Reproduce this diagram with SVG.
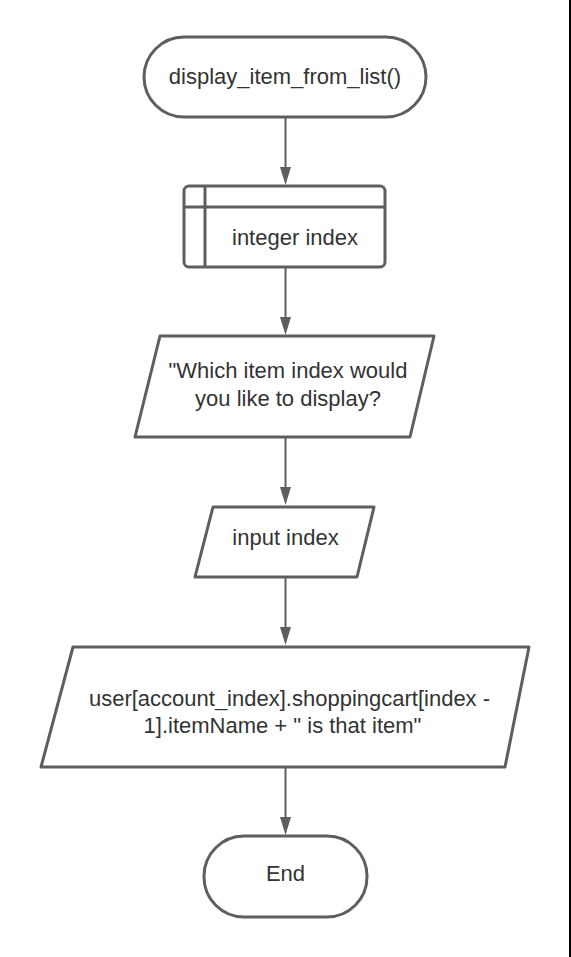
<svg xmlns="http://www.w3.org/2000/svg" width="571" height="957" viewBox="0 0 571 957">
<style>
.shape{fill:#ffffff;stroke:#5e5e5e;stroke-width:3;stroke-linejoin:round}
.inner{fill:none;stroke:#5e5e5e;stroke-width:3}
.conn{fill:none;stroke:#5e5e5e;stroke-width:2}
.lbl{font-family:"Liberation Sans",Arial,sans-serif;font-size:22px;fill:#333333;text-anchor:middle}
</style>
<defs>
<marker id="arrow" markerWidth="12" markerHeight="18" refX="11" refY="6" orient="auto" markerUnits="userSpaceOnUse" viewBox="0 0 18 12">
<path d="M0,0 L18,6 L0,12 Z" fill="#5e5e5e"/>
</marker>
</defs>
<rect x="0" y="0" width="571" height="957" fill="#ffffff"/>
<rect x="569" y="0" width="2" height="957" fill="#000000"/>
<g id="connectors">
<path class="conn" d="M285.5,117 L285.5,168"/>
<path d="M280,167 L291,167 L285.5,185 Z" fill="#5e5e5e"/>
<path class="conn" d="M285.5,267 L285.5,318"/>
<path d="M280,317 L291,317 L285.5,335 Z" fill="#5e5e5e"/>
<path class="conn" d="M285.5,437 L285.5,488"/>
<path d="M280,487 L291,487 L285.5,505 Z" fill="#5e5e5e"/>
<path class="conn" d="M285.5,577 L285.5,628"/>
<path d="M280,627 L291,627 L285.5,645 Z" fill="#5e5e5e"/>
<path class="conn" d="M285.5,767 L285.5,818"/>
<path d="M280,817 L291,817 L285.5,835 Z" fill="#5e5e5e"/>
</g>
<g id="start">
<rect class="shape" x="144" y="37" width="282" height="80" rx="40" ry="40"/>
<text class="lbl" x="285" y="84">display_item_from_list()</text>
</g>
<g id="declare">
<rect class="shape" x="184" y="186" width="201" height="81" rx="5" ry="5"/>
<line class="inner" x1="184" y1="207" x2="385" y2="207"/>
<line class="inner" x1="205" y1="186" x2="205" y2="267"/>
<text class="lbl" x="295" y="245">integer index</text>
</g>
<g id="prompt">
<path class="shape" d="M160,336 L434,336 L410,437 L135,437 Z"/>
<text class="lbl" x="288" y="378">"Which item index would</text>
<text class="lbl" x="288" y="406">you like to display?</text>
</g>
<g id="input">
<path class="shape" d="M213,507 L374,507 L357,577 L195,577 Z"/>
<text class="lbl" x="285.5" y="545">input index</text>
</g>
<g id="output">
<path class="shape" d="M73,647 L529,647 L505,767 L41,767 Z"/>
<text class="lbl" x="289.5" y="706">user[account_index].shoppingcart[index -</text>
<text class="lbl" x="282.5" y="733">1].itemName + " is that item"</text>
</g>
<g id="end">
<rect class="shape" x="204" y="836" width="163" height="81" rx="40" ry="40"/>
<text class="lbl" x="285.5" y="881">End</text>
</g>
</svg>
